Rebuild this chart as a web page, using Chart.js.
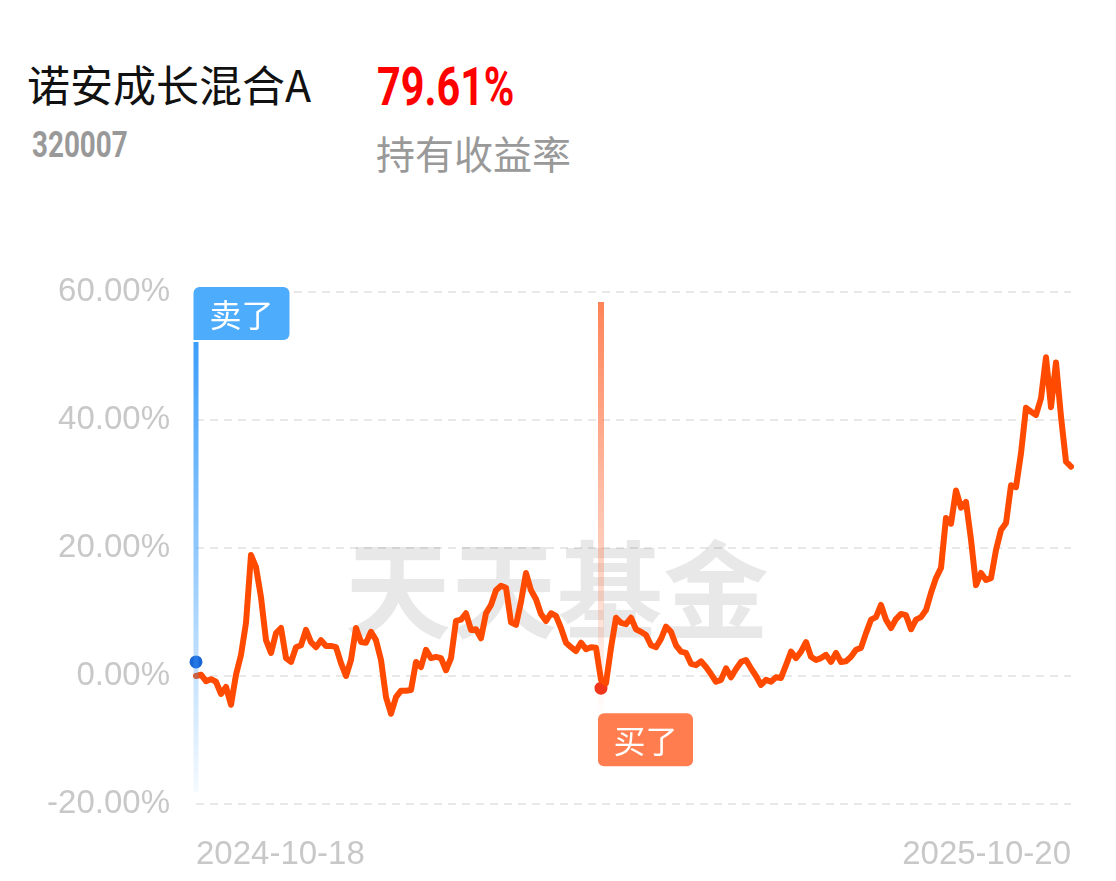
<!DOCTYPE html>
<html>
<head>
<meta charset="utf-8">
<script src="https://cdn.jsdelivr.net/npm/chart.js@4"></script>
<style>
  body { margin: 0; background: #fff; width: 1116px; height: 881px; overflow: hidden; position: relative; font-family: "Noto Sans CJK SC", sans-serif; }
  .t { position: absolute; white-space: nowrap; }
  #name { left: 27px; top: 62px; font-size: 43px; line-height: 43px; color: #111; }
  #rate { left: 377px; top: 61px; font: bold 53px/53px Roboto; color: #f00; transform: scaleX(.78); transform-origin: 0 0; }
  #code { left: 32px; top: 127px; font: bold 36.6px/36.6px Roboto; color: #999; transform: scaleX(.76); transform-origin: 0 0; }
  #lbl { left: 376px; top: 133px; font-size: 39px; line-height: 39px; color: #999; }
  #wrap { position: absolute; left: 0; top: 0; width: 1116px; height: 881px; }
</style>
</head>
<body>
<div class="t" id="name">诺安成长混合A</div>
<div class="t" id="rate">79.61%</div>
<div class="t" id="code">320007</div>
<div class="t" id="lbl">持有收益率</div>
<div id="wrap"><canvas id="c"></canvas></div>
<script>
// holding return (%), one reading per step from 2024-10-18 to 2025-10-20
const values = [
  0.0, 0.2, -0.8, -0.5, -0.9, -2.8, -1.7, -4.5, 0.2, 3.3,
  8.3, 18.9, 17.0, 12.3, 5.6, 3.6, 6.7, 7.5, 2.8, 2.2,
  4.5, 4.8, 7.2, 5.3, 4.5, 5.6, 4.7, 4.7, 4.5, 2.0,
  0.0, 2.5, 7.5, 5.3, 5.2, 6.9, 5.6, 2.5, -3.3, -5.9,
  -3.3, -2.3, -2.3, -2.2, 2.2, 1.4, 4.1, 2.8, 3.0, 2.8,
  0.9, 2.8, 8.6, 8.8, 9.8, 7.2, 7.3, 5.9, 9.8, 11.1,
  13.4, 14.1, 13.8, 8.4, 8.0, 11.6, 16.1, 13.4, 12.0, 9.7,
  8.6, 9.8, 9.4, 7.5, 5.2, 4.5, 3.9, 5.2, 4.2, 4.5,
  4.4, -0.6, -1.1, 4.4, 9.1, 8.3, 8.1, 9.1, 7.3, 6.9,
  6.4, 4.8, 4.5, 5.8, 7.7, 6.9, 4.8, 3.8, 3.6, 1.9,
  1.7, 2.3, 1.4, 0.3, -0.9, -0.6, 1.2, -0.2, 1.1, 2.2,
  2.5, 1.2, 0.0, -1.4, -0.6, -0.9, -0.2, -0.3, 1.7, 3.8,
  2.8, 3.8, 5.3, 3.0, 2.5, 2.8, 3.3, 2.2, 3.6, 2.2,
  2.3, 3.0, 4.1, 4.4, 6.7, 8.8, 9.2, 11.1, 8.8, 7.5,
  8.9, 9.7, 9.5, 7.3, 8.8, 9.2, 10.3, 13.0, 15.3, 16.9,
  24.7, 23.8, 29.0, 26.3, 27.2, 21.3, 14.2, 16.1, 15.0, 15.3,
  19.7, 22.8, 23.9, 29.8, 29.5, 34.8, 41.9, 41.3, 40.8, 43.4,
  49.8, 42.0, 49.0, 40.5, 33.5, 32.7
];
const xTicks = ['2024-10-18', '2025-10-20'];
const yTicks = [-20, 0, 20, 40, 60];
const sellIdx = 0, sellVal = 2.2;
const buyIdx = 81, buyVal = -1.9;

const labels = values.map((_, i) => i);
const sellData = values.map((_, i) => (i === sellIdx ? sellVal : null));
const buyData = values.map((_, i) => (i === buyIdx ? buyVal : null));

function tag(ctx, x, y, w, h, r, fill, text) {
  ctx.fillStyle = fill;
  ctx.beginPath();
  ctx.roundRect(x, y, w, h, r);
  ctx.fill();
  ctx.fillStyle = '#fff';
  ctx.font = '32px "Noto Sans CJK SC"';
  ctx.textAlign = 'center';
  ctx.textBaseline = 'middle';
  ctx.fillText(text, x + w / 2, y + h / 2 + 1);
}

const marks = {
  id: 'marks',
  beforeDatasetsDraw(chart) {
    const { ctx, scales: { x, y } } = chart;
    ctx.save();
    ctx.font = 'bold 106px "Noto Sans CJK SC"';
    ctx.fillStyle = 'rgba(0,0,0,0.09)';
    ctx.textAlign = 'center';
    ctx.textBaseline = 'middle';
    ctx.fillText('天天基金', 557, 590);

    // buy line
    const bx = x.getPixelForValue(buyIdx);
    const by = y.getPixelForValue(buyVal);
    let g = ctx.createLinearGradient(0, 302, 0, by + 30);
    g.addColorStop(0, 'rgba(255,125,80,0.95)');
    g.addColorStop(0.85, 'rgba(255,125,80,0.15)');
    g.addColorStop(1, 'rgba(255,125,80,0)');
    ctx.fillStyle = g;
    ctx.fillRect(bx - 3, 302, 6, by + 30 - 302);
    ctx.restore();
  },
  afterDatasetsDraw(chart) {
    const { ctx, scales: { x, y } } = chart;
    ctx.save();
    // sell line
    const sx = x.getPixelForValue(sellIdx);
    const top = y.getPixelForValue(60);
    let g = ctx.createLinearGradient(0, top + 50, 0, 792);
    g.addColorStop(0, 'rgba(60,158,250,1)');
    g.addColorStop(1, 'rgba(60,158,250,0.05)');
    ctx.fillStyle = g;
    ctx.fillRect(sx - 2.5, top + 50, 5, 792 - top - 50);
    tag(ctx, sx - 2.5, top - 5, 96, 53, [6, 6, 6, 0], '#4dacfb', '卖了');

    const bx = x.getPixelForValue(buyIdx);
    const by = y.getPixelForValue(buyVal);
    tag(ctx, bx - 3, by + 25, 95, 53, 6, '#ff7d4f', '买了');
    ctx.restore();
  }
};

const tickFont = { family: 'Liberation Sans', size: 33 };

new Chart(document.getElementById('c'), {
  type: 'line',
  data: {
    labels,
    datasets: [
      {
        data: values,
        borderColor: '#ff4a00',
        borderWidth: 6,
        pointRadius: 0,
        tension: 0,
        borderJoinStyle: 'round',
        borderCapStyle: 'round',
      },
      {
        data: sellData,
        showLine: false,
        clip: false,
        pointRadius: 7.5,
        pointBackgroundColor: '#1966d8',
        pointBorderColor: '#fff',
        pointBorderWidth: 2,
      },
      {
        data: buyData,
        showLine: false,
        clip: false,
        pointRadius: 7.5,
        pointBackgroundColor: '#f2361b',
        pointBorderColor: '#fff',
        pointBorderWidth: 2,
      },
    ],
  },
  options: {
    responsive: true,
    maintainAspectRatio: false,
    animation: false,
    layout: { padding: { top: 292, right: 45, bottom: 0, left: 0 } },
    plugins: { legend: { display: false }, tooltip: { enabled: false } },
    scales: {
      x: {
        grid: { display: false },
        border: { display: false },
        ticks: {
          autoSkip: false,
          maxRotation: 0,
          align: 'inner',
          color: '#c8c8c8',
          font: tickFont,
          padding: 23,
          callback: (v, i, t) => (i === 0 ? xTicks[0] : i === t.length - 1 ? xTicks[1] : ''),
        },
        afterFit: (s) => { s.height = 77; },
      },
      y: {
        min: -20,
        max: 60,
        afterBuildTicks: (s) => { s.ticks = yTicks.map((v) => ({ value: v })); },
        grid: { color: '#e8e8e8', lineWidth: 2, drawTicks: false },
        border: { display: false, dash: [8, 6] },
        ticks: {
          color: '#c8c8c8',
          font: tickFont,
          padding: 26,
          callback: (v) => Number(v).toFixed(2) + '%',
        },
        afterFit: (s) => { s.width = 196; },
      },
    },
  },
  plugins: [marks],
});
</script>
</body>
</html>
